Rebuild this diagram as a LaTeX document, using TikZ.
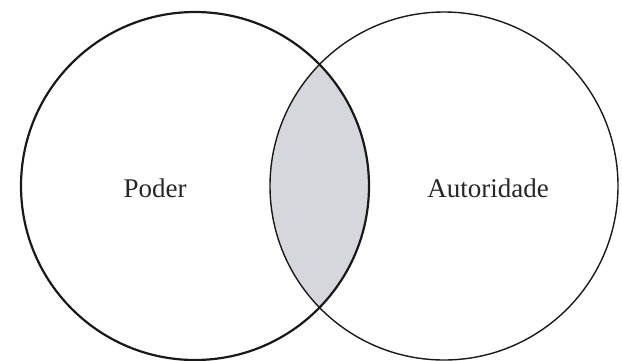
\documentclass[tikz,border=0pt]{standalone}
\usepackage{fontspec}
\setmainfont{Liberation Serif}
\definecolor{lensgray}{RGB}{214,214,221}
\tikzset{
  label text/.style={font=\fontsize{27}{30}\selectfont, text=black!85, inner sep=0pt},
  thick ring/.style={line width=2.2pt, draw=black!90},
  thin ring/.style={line width=1.4pt, draw=black!90}
}
\begin{document}
\begin{tikzpicture}[x=1pt,y=-1pt]
\useasboundingbox (0,0) rectangle (622,360);
\coordinate (cl) at (195,186);
\coordinate (cr) at (444,186);
\begin{scope}
  \clip (cl) circle[radius=174pt];
  \fill[lensgray] (cr) circle[radius=174pt];
\end{scope}
\draw[thin ring] (cr) circle[radius=174pt];
\draw[thick ring] (cl) circle[radius=174pt];
\node[label text] (poder) at (155,188) {Poder};
\node[label text] (autoridade) at (488,188) {Autoridade};
\end{tikzpicture}
\end{document}
